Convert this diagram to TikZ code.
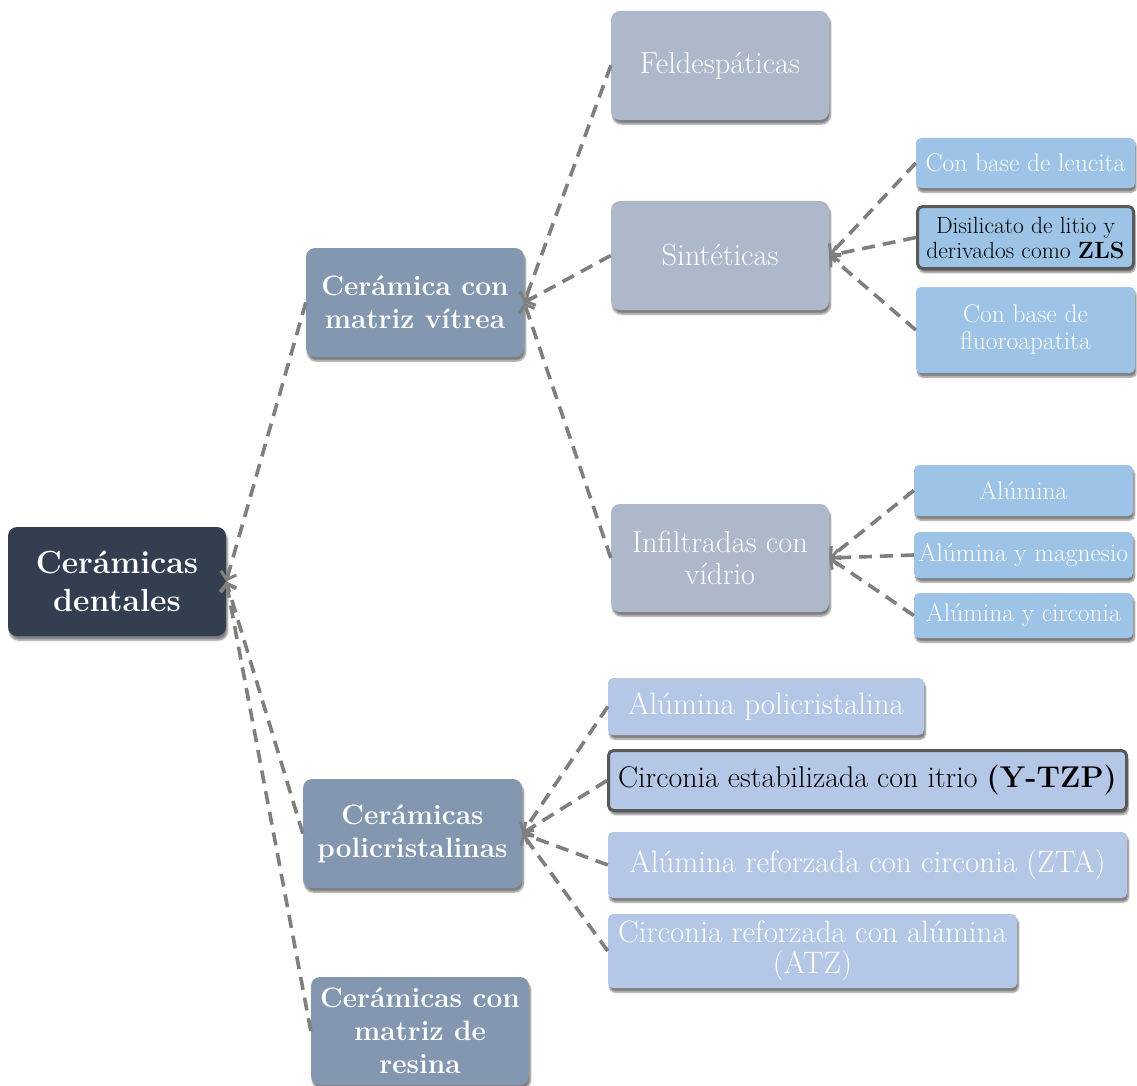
\documentclass[tikz,border=0pt]{standalone}
\usepackage{fontspec}
\usetikzlibrary{arrows.meta,shadows.blur}

\definecolor{rootfill}{HTML}{333F50}
\definecolor{mainfill}{HTML}{8497B0}
\definecolor{subfill}{HTML}{ADB9CA}
\definecolor{leaffill}{HTML}{9DC3E6}
\definecolor{polyfill}{HTML}{B4C7E7}
\definecolor{edgegray}{HTML}{7F7F7F}
\definecolor{framegray}{HTML}{595959}

\tikzset{
  box/.style={rounded corners=9pt, inner sep=0pt, align=center, text=white,
    blur shadow={shadow xshift=1.5pt, shadow yshift=-4pt, shadow blur steps=6, shadow opacity=50}},
  smallbox/.style={box, rounded corners=5pt},
  rootbox/.style={box, fill=rootfill, font=\fontsize{32}{38}\selectfont\bfseries},
  mainbox/.style={box, fill=mainfill, font=\fontsize{28}{33}\selectfont\bfseries},
  subbox/.style={box, fill=subfill, font=\fontsize{30.5}{32}\selectfont},
  leafbox/.style={smallbox, fill=leaffill, font=\fontsize{25.5}{27}\selectfont},
  polybox/.style={smallbox, fill=polyfill, font=\fontsize{31}{31}\selectfont},
  keybox/.style={draw=framegray, line width=3pt, text=black},
  conn/.style={draw=edgegray, line width=3.6pt, dash pattern=on 13pt off 8pt,
    -{Straight Barb[length=7pt,width=16pt,line width=3pt]}},
}

\begin{document}
\begin{tikzpicture}[x=1pt, y=-1pt]
\useasboundingbox (0,0) rectangle (1137,1086);

% root
\node[rootbox, minimum width=218pt, minimum height=109pt] (root) at (117,581.5) {Cerámicas\\dentales};

% first level
\node[mainbox, minimum width=218pt, minimum height=109pt] (vitrea) at (415,302.5) {Cerámica con\\matriz vítrea};
\node[mainbox, minimum width=219pt, minimum height=109pt] (poli) at (412.5,833.5) {Cerámicas\\policristalinas};
\node[mainbox, minimum width=218pt, minimum height=108pt] (resina) at (420,1031) {Cerámicas con\\matriz de\\resina};

% glass-matrix families
\node[subbox, minimum width=218pt, minimum height=109pt] (feld) at (720,65.5) {Feldespáticas};
\node[subbox, minimum width=218pt, minimum height=109pt] (sint) at (720,255.5) {Sintéticas};
\node[subbox, minimum width=218pt, minimum height=108pt] (infil) at (720,558) {Infiltradas con\\vídrio};

% synthetic glass ceramics
\node[leafbox, minimum width=219pt, minimum height=50pt] (leuc) at (1025.5,163) {Con base de leucita};
\node[leafbox, keybox, minimum width=216pt, minimum height=62pt, font=\fontsize{23.5}{25}\selectfont] (disil) at (1025.5,237.5) {Disilicato de litio y\\derivados como \textbf{ZLS}};
\node[leafbox, minimum width=219pt, minimum height=86pt] (fluor) at (1025.5,330) {Con base de\\fluoroapatita};

% glass-infiltrated ceramics
\node[leafbox, minimum width=219pt, minimum height=51pt] (alu) at (1023.5,490.5) {Alúmina};
\node[leafbox, minimum width=219pt, minimum height=46pt] (mag) at (1023.5,555) {Alúmina y magnesio};
\node[leafbox, minimum width=219pt, minimum height=45pt] (circ) at (1023.5,615.5) {Alúmina y circonia};

% polycrystalline ceramics
\node[polybox, minimum width=316pt, minimum height=57pt] (apol) at (766,706.5) {Alúmina policristalina};
\node[polybox, keybox, minimum width=518pt, minimum height=60pt, font=\fontsize{30}{31}\selectfont] (ytzp) at (867.5,780.5) {Circonia estabilizada con itrio \textbf{(Y-TZP)}};
\node[polybox, minimum width=519pt, minimum height=66pt] (zta) at (867.5,865) {Alúmina reforzada con circonia (ZTA)};
\node[polybox, minimum width=409pt, minimum height=74pt] (atz) at (812.5,951) {Circonia reforzada con alúmina\\(ATZ)};

% connectors, tips pointing at the parent
\draw[conn] (vitrea.west) -- (root.east);
\draw[conn] (poli.west) -- (root.east);
\draw[conn] (resina.west) -- (root.east);

\draw[conn] (feld.west) -- (vitrea.east);
\draw[conn] (sint.west) -- (vitrea.east);
\draw[conn] (infil.west) -- (vitrea.east);

\draw[conn] (leuc.west) -- (sint.east);
\draw[conn] (disil.west) -- (sint.east);
\draw[conn] (fluor.west) -- (sint.east);

\draw[conn] (alu.west) -- (infil.east);
\draw[conn] (mag.west) -- (infil.east);
\draw[conn] (circ.west) -- (infil.east);

\draw[conn] (apol.west) -- (poli.east);
\draw[conn] (ytzp.west) -- (poli.east);
\draw[conn] (zta.west) -- (poli.east);
\draw[conn] (atz.west) -- (poli.east);
\end{tikzpicture}
\end{document}
